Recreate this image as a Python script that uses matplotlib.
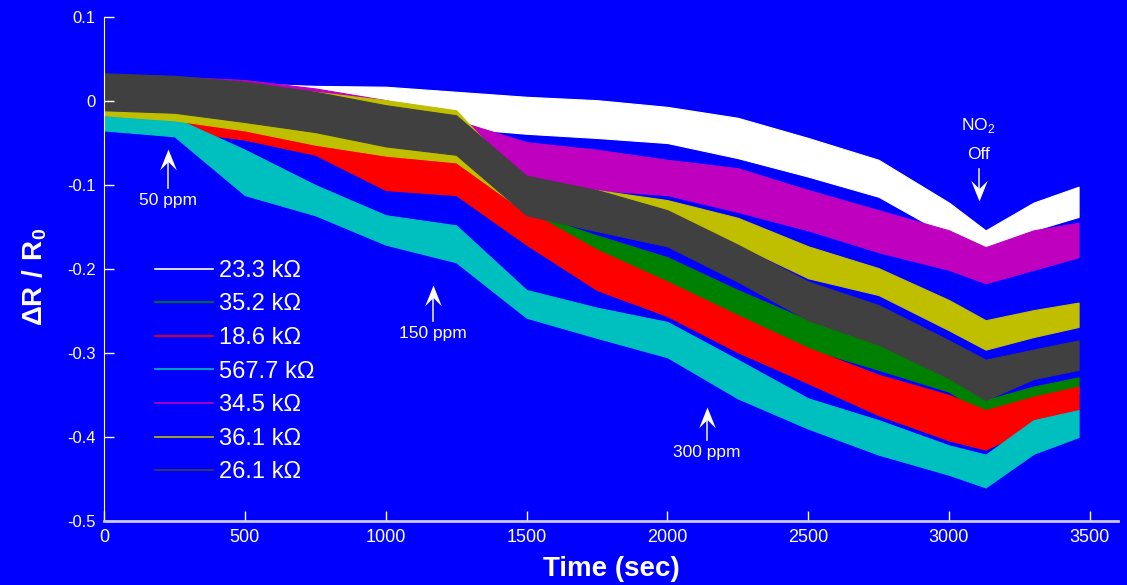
import numpy as np
import matplotlib
matplotlib.use('Agg')
import matplotlib.pyplot as plt
from matplotlib.lines import Line2D
from matplotlib.path import Path

plt.rcParams['font.family'] = ['Liberation Sans', 'DejaVu Sans']
plt.rcParams['axes.unicode_minus'] = False
plt.rcParams['mathtext.fontset'] = 'custom'
plt.rcParams['mathtext.rm'] = 'Liberation Sans'
plt.rcParams['mathtext.bf'] = 'Liberation Sans:bold'

BLUE = '#0000ff'

# time points [s] where the band edges were read
t = [0, 250, 500, 750, 1000, 1250, 1500, 1750, 2000, 2250, 2500, 2750, 3000, 3130, 3300, 3460]

# upper / lower edge of each noisy trace (dR/R0)
white_hi = [0.027, 0.025, 0.021, 0.018, 0.017, 0.011, 0.005, 0.001, -0.007, -0.020, -0.044, -0.070, -0.121, -0.154, -0.121, -0.102]
white_lo = [-0.017, -0.017, -0.020, -0.017, -0.017, -0.032, -0.039, -0.044, -0.050, -0.068, -0.090, -0.114, -0.161, -0.181, -0.154, -0.138]

green_hi = [0.019, 0.013, 0.007, -0.005, -0.017, -0.046, -0.132, -0.160, -0.186, -0.225, -0.261, -0.287, -0.320, -0.356, -0.340, -0.329]
green_lo = [-0.020, -0.029, -0.040, -0.052, -0.070, -0.094, -0.156, -0.192, -0.221, -0.263, -0.295, -0.320, -0.346, -0.374, -0.360, -0.348]

red_hi = [0.015, -0.011, -0.020, -0.031, -0.064, -0.073, -0.130, -0.177, -0.215, -0.255, -0.294, -0.326, -0.350, -0.368, -0.352, -0.340]
red_lo = [-0.020, -0.035, -0.046, -0.064, -0.106, -0.112, -0.171, -0.225, -0.256, -0.299, -0.336, -0.374, -0.404, -0.415, -0.388, -0.368]

cyan_hi = [-0.013, -0.020, -0.058, -0.100, -0.136, -0.148, -0.225, -0.246, -0.263, -0.308, -0.354, -0.380, -0.410, -0.421, -0.380, -0.368]
cyan_lo = [-0.035, -0.042, -0.112, -0.136, -0.171, -0.192, -0.258, -0.282, -0.305, -0.354, -0.390, -0.421, -0.445, -0.460, -0.420, -0.400]

magenta_hi = [0.027, 0.029, 0.025, 0.015, 0.001, -0.023, -0.049, -0.058, -0.070, -0.080, -0.106, -0.130, -0.154, -0.174, -0.154, -0.145]
magenta_lo = [-0.017, -0.020, -0.029, -0.040, -0.052, -0.071, -0.092, -0.106, -0.112, -0.132, -0.154, -0.180, -0.201, -0.217, -0.201, -0.186]

yellow_hi = [0.025, 0.023, 0.018, 0.011, 0.001, -0.011, -0.100, -0.106, -0.118, -0.139, -0.173, -0.199, -0.237, -0.261, -0.249, -0.240]
yellow_lo = [-0.017, -0.023, -0.035, -0.052, -0.065, -0.073, -0.133, -0.130, -0.140, -0.171, -0.211, -0.231, -0.273, -0.296, -0.281, -0.269]

gray_hi = [0.033, 0.030, 0.023, 0.011, -0.005, -0.017, -0.089, -0.106, -0.130, -0.171, -0.215, -0.243, -0.285, -0.308, -0.296, -0.285]
gray_lo = [-0.011, -0.014, -0.025, -0.037, -0.054, -0.064, -0.136, -0.155, -0.173, -0.215, -0.261, -0.290, -0.330, -0.356, -0.331, -0.320]

labels = ['23.3 k\u03a9', '35.2 k\u03a9', '18.6 k\u03a9', '567.7 k\u03a9', '34.5 k\u03a9', '36.1 k\u03a9', '26.1 k\u03a9']
colors = ['#ffffff', '#008000', '#ff0000', '#00bfbf', '#bf00bf', '#bfbf00', '#404040']
bands = [(white_hi, white_lo), (green_hi, green_lo), (red_hi, red_lo), (cyan_hi, cyan_lo),
         (magenta_hi, magenta_lo), (yellow_hi, yellow_lo), (gray_hi, gray_lo)]

# gas events: time, arrow tail, arrow tip, label position
events = [('50 ppm', 227, -0.104, -0.057, -0.119),
          ('150 ppm', 1168, -0.262, -0.219, -0.277),
          ('300 ppm', 2140, -0.404, -0.364, -0.419)]

fig = plt.figure(figsize=(11.27, 5.85), dpi=100, facecolor=BLUE)
ax = fig.add_axes([104 / 1127, 64 / 585, 1014 / 1127, 504 / 585])
ax.set_facecolor(BLUE)

for (hi, lo), c in zip(bands, colors):
    ax.fill_between(t, lo, hi, color=c, lw=0.8, edgecolor=c)

# chevron arrow heads (tip at the marker origin)
up_head = Path([(0, 0), (-0.4, -1), (0, -0.6), (0.4, -1), (0, 0)],
               [Path.MOVETO, Path.LINETO, Path.LINETO, Path.LINETO, Path.CLOSEPOLY])
down_head = Path([(0, 0), (-0.4, 1), (0, 0.6), (0.4, 1), (0, 0)],
                 [Path.MOVETO, Path.LINETO, Path.LINETO, Path.LINETO, Path.CLOSEPOLY])

for name, x, y0, y1, ytxt in events:
    ax.plot([x, x], [y0, y1 - 0.01], color='#e0e0ff', lw=1.2)
    ax.plot(x, y1, marker=up_head, ms=30, color='white', mec='white', mew=0)
    ax.text(x, ytxt, name, color='white', fontsize=12.5, ha='center', va='center')

ax.plot([3105, 3105], [-0.081, -0.108], color='#e0e0ff', lw=1.2)
ax.plot(3105, -0.119, marker=down_head, ms=30, color='white', mec='white', mew=0)
ax.text(3105, -0.029, r'NO$_2$', color='white', fontsize=12.5, ha='center', va='center')
ax.text(3105, -0.064, 'Off', color='white', fontsize=12.5, ha='center', va='center')

ax.set_xlim(0, 3600)
ax.set_ylim(-0.5, 0.1)
ax.set_xticks([0, 500, 1000, 1500, 2000, 2500, 3000, 3500])
ax.set_yticks([-0.5, -0.4, -0.3, -0.2, -0.1, 0, 0.1])
ax.set_yticklabels(['-0.5', '-0.4', '-0.3', '-0.2', '-0.1', '0', '0.1'])
ax.tick_params(direction='in', length=7, width=1, colors='white', labelsize=12, pad=6)
ax.tick_params(axis='x', labelsize=13)

for s in ['top', 'right']:
    ax.spines[s].set_visible(False)
ax.spines['left'].set_color('white')
ax.spines['bottom'].set_color('#c8c8ff')
ax.spines['bottom'].set_linewidth(2)

ax.set_xlabel('Time (sec)', color='white', fontsize=20, fontweight='bold', labelpad=7)
ax.set_ylabel(r'$\mathbf{\Delta R\ /\ R_0}$', color='white', fontsize=20)
ax.yaxis.set_label_coords(-0.054, 0.484)

handles = [Line2D([], [], color=c, lw=1.2) for c in colors]
leg = ax.legend(handles, labels, loc='upper left', bbox_to_anchor=(0.05, 0.518), frameon=False,
                borderaxespad=0, borderpad=0, handlelength=2.46, handletextpad=0.25,
                labelspacing=0.49, fontsize=17)
for txt in leg.get_texts():
    txt.set_color('white')

fig.savefig('out.png', dpi=100, facecolor=BLUE)
